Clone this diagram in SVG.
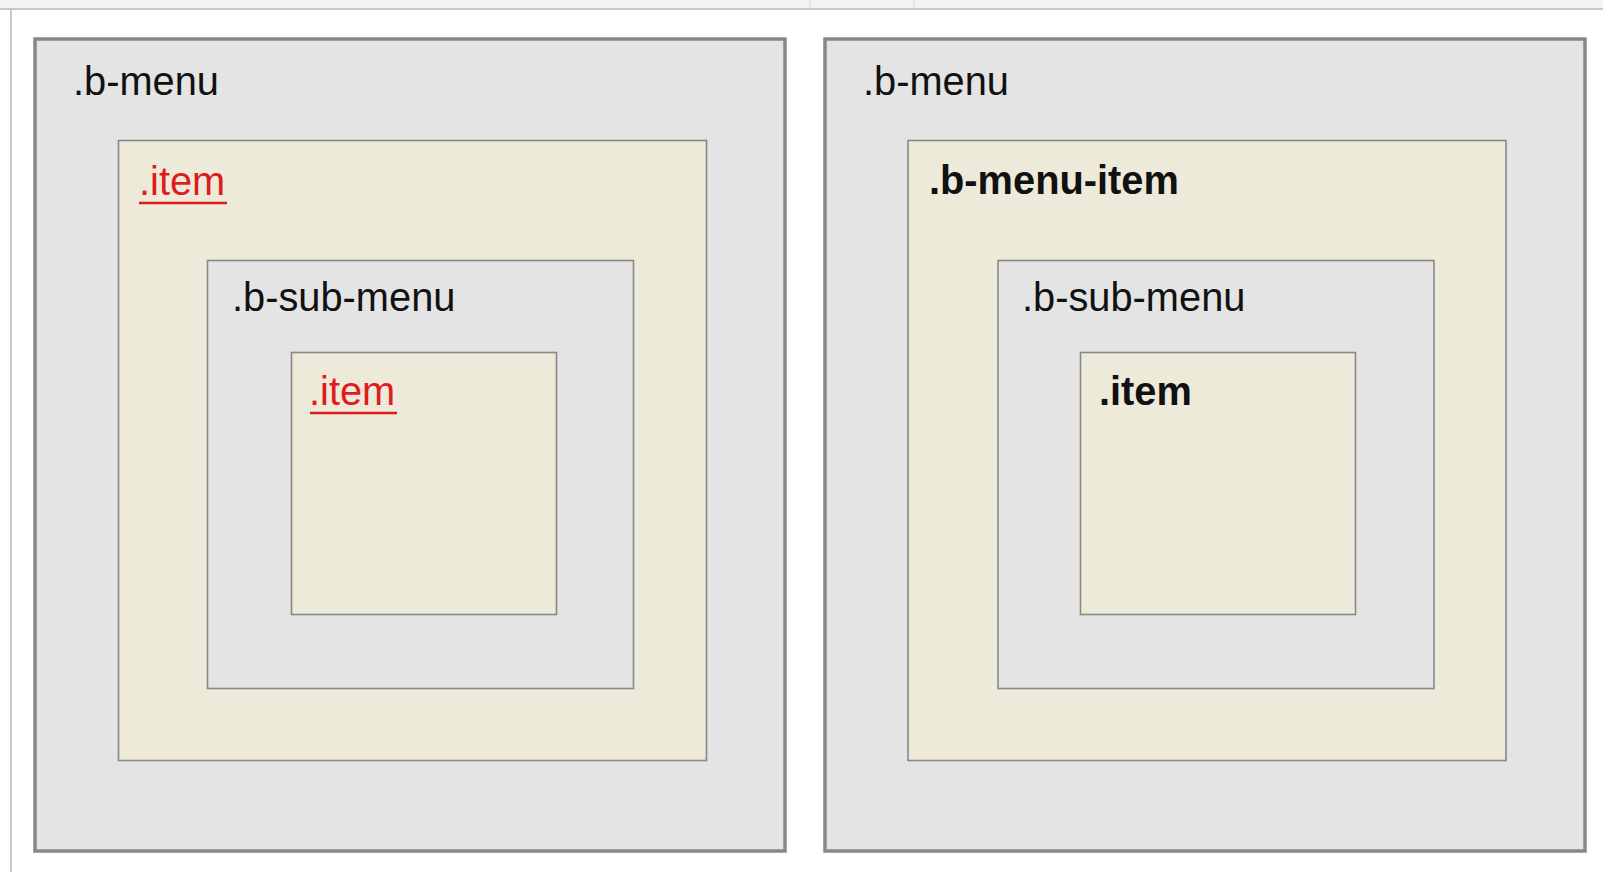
<svg xmlns="http://www.w3.org/2000/svg" width="1603" height="872" viewBox="0 0 1603 872">
<style>
.outer{fill:#e4e4e4;stroke:#888;stroke-width:3.5}
.gray{fill:#e4e4e4;stroke:#888;stroke-width:1.6}
.beige{fill:#edeada;stroke:#888;stroke-width:1.6}
text{font-family:"Liberation Sans",Arial,sans-serif;font-size:39.8px;fill:#111}
.red{fill:#e01b1b}
.ul{stroke:#e01b1b;stroke-width:2.6}
.bold{font-weight:bold}
</style>
<rect x="0" y="0" width="1603" height="872" fill="#fff"/>
<rect x="0" y="0" width="1603" height="9" fill="#f3f3f3"/>
<line x1="0" y1="9" x2="1603" y2="9" stroke="#c8c8c8" stroke-width="2"/>
<line x1="11" y1="9" x2="11" y2="872" stroke="#c8c8c8" stroke-width="2"/>
<line x1="810" y1="0" x2="810" y2="9" stroke="#d8d8d8" stroke-width="1"/>
<line x1="914" y1="0" x2="914" y2="9" stroke="#d8d8d8" stroke-width="1"/>
<g id="left-b-menu">
<rect class="outer" x="35" y="39" width="750" height="812"/>
<text x="73" y="95">.b-menu</text>
</g>
<g id="left-item">
<rect class="beige" x="118.5" y="140.5" width="588" height="620"/>
<text class="red" x="139" y="195">.item</text>
<line class="ul" x1="139" y1="203" x2="227" y2="203"/>
</g>
<g id="left-b-sub-menu">
<rect class="gray" x="207.5" y="260.5" width="426" height="428"/>
<text x="232" y="311">.b-sub-menu</text>
</g>
<g id="left-inner-item">
<rect class="beige" x="291.5" y="352.5" width="265" height="262"/>
<text class="red" x="309" y="405">.item</text>
<line class="ul" x1="310" y1="413" x2="397" y2="413"/>
</g>
<g id="right-b-menu">
<rect class="outer" x="825" y="39" width="760" height="812"/>
<text x="863" y="95">.b-menu</text>
</g>
<g id="right-b-menu-item">
<rect class="beige" x="908" y="140.5" width="598" height="620"/>
<text class="bold" x="929" y="194">.b-menu-item</text>
</g>
<g id="right-b-sub-menu">
<rect class="gray" x="998" y="260.5" width="436" height="428"/>
<text x="1022" y="311">.b-sub-menu</text>
</g>
<g id="right-inner-item">
<rect class="beige" x="1080.5" y="352.5" width="275" height="262"/>
<text class="bold" x="1099" y="405">.item</text>
</g>
<g id="connectors"></g>
</svg>
